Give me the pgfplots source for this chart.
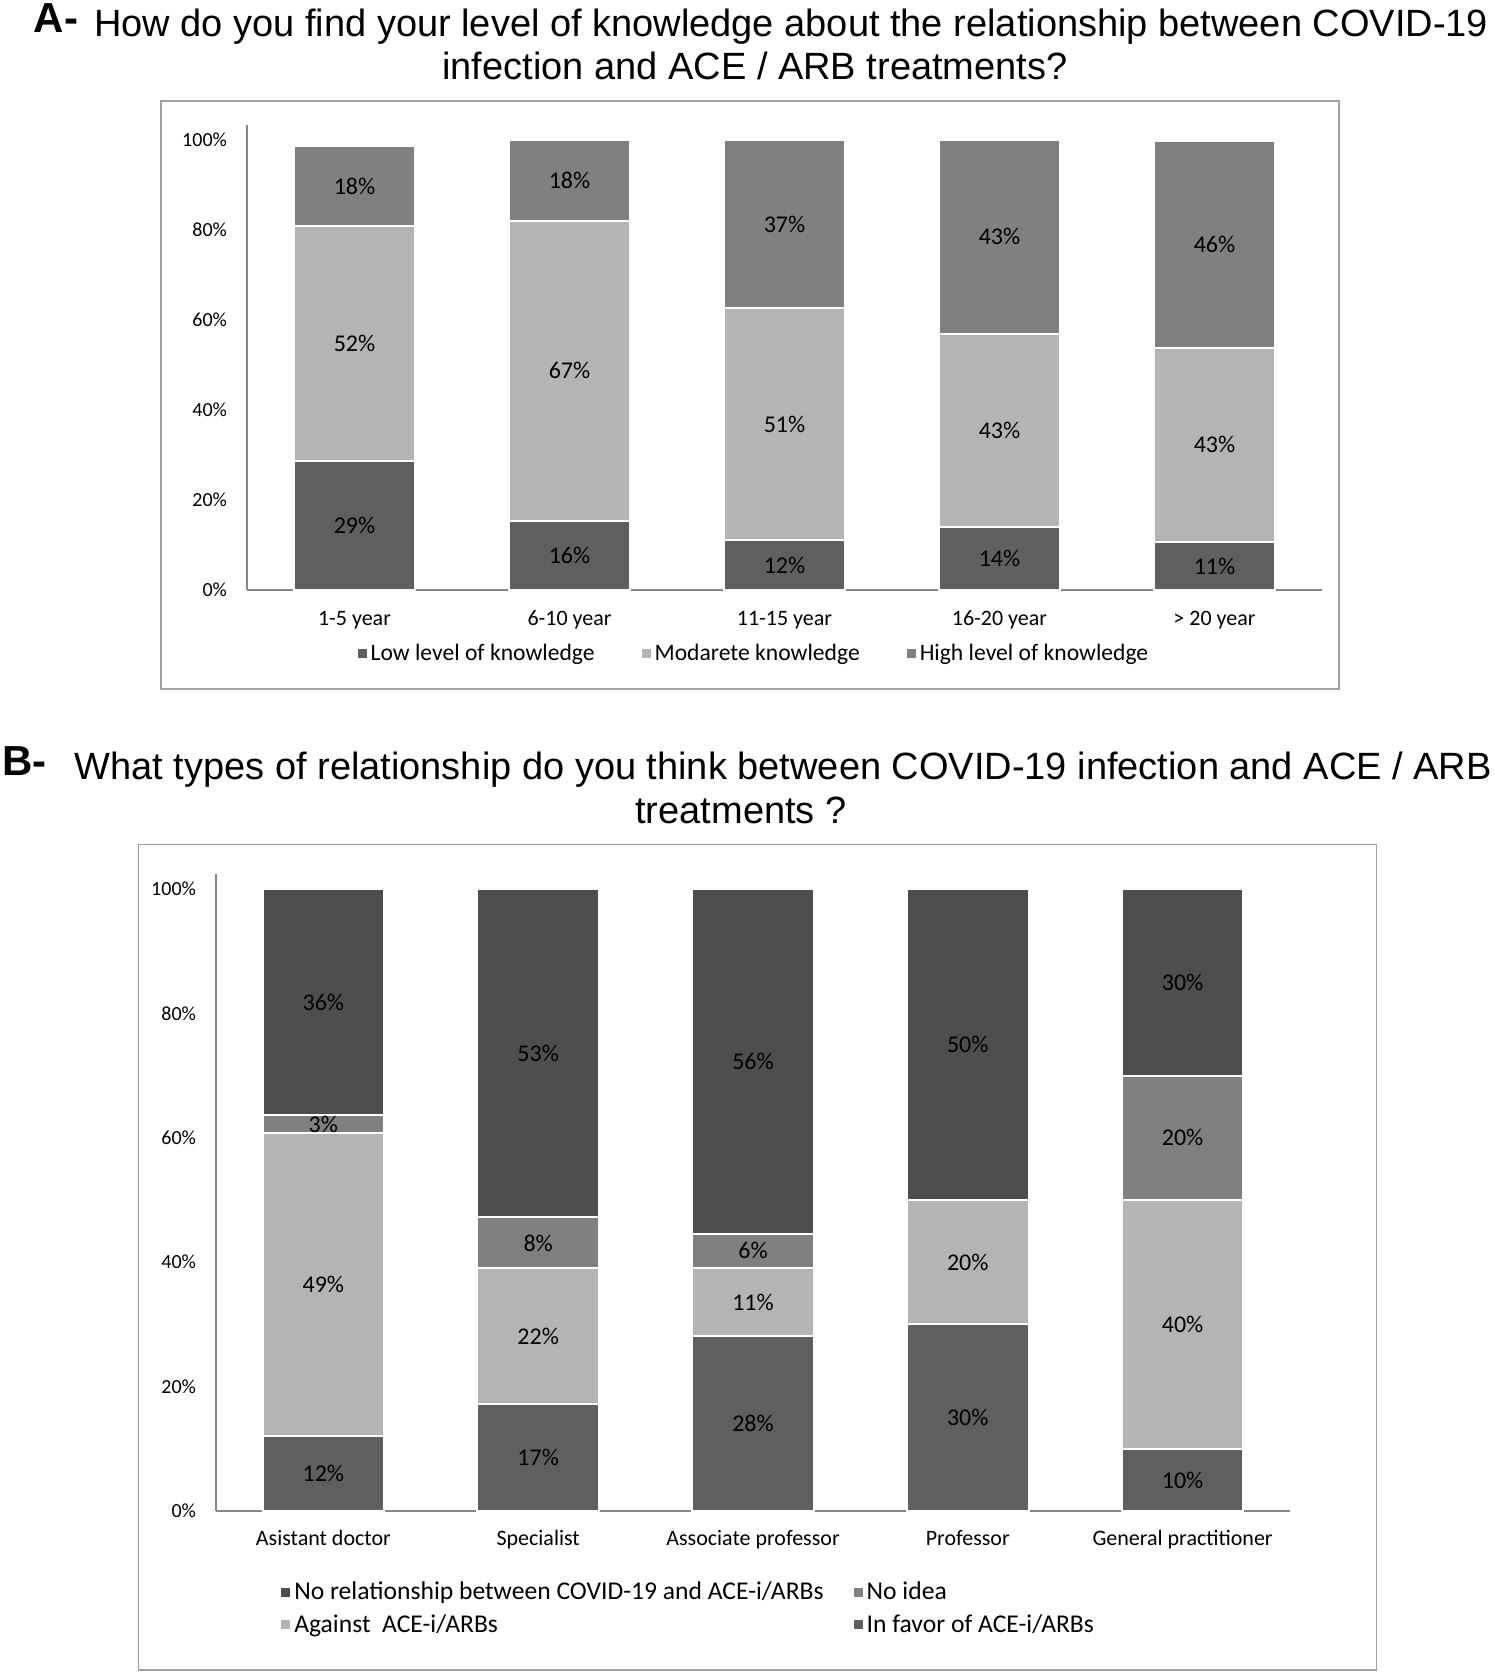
\documentclass[border=0pt]{standalone}
\usepackage{pgfplots}
\pgfplotsset{compat=1.18}
\usepackage{pgfplotstable}
\usepackage{fontspec}
\setmainfont{Carlito}
\newfontfamily\arial{Liberation Sans}

\definecolor{lowk}{HTML}{5F5F5F}
\definecolor{modk}{HTML}{B4B4B4}
\definecolor{highk}{HTML}{808080}
\definecolor{norel}{HTML}{4E4E4E}
\definecolor{axisgray}{HTML}{868686}
\definecolor{framegray}{HTML}{A0A0A0}

% A: knowledge by years of practice (segment heights)
\pgfplotstableread{
x low  lowlab mod  modlab high highlab
0 28.7 29\%   52.1 52\%   17.8 18\%
1 15.4 16\%   66.6 67\%   18.0 18\%
2 11.1 12\%   51.5 51\%   37.4 37\%
3 14.0 14\%   42.9 43\%   43.1 43\%
4 10.7 11\%   43.1 43\%   46.0 46\%
}\knowA

% B: opinion by position, stacked bottom to top
\pgfplotstableread{
x fav  favlab aga  agalab idea idealab norel norellab
0 12.0 12\%   48.7 49\%   2.9  3\%     36.4  36\%
1 17.2 17\%   21.8 22\%   8.2  8\%     52.8  53\%
2 28.1 28\%   11.0 11\%   5.5  6\%     55.4  56\%
3 30.0 30\%   20.0 20\%   0.0  {}      50.0  50\%
4 10.0 10\%   40.0 40\%   20.0 20\%    30.0  30\%
}\relB

\pgfplotsset{
  panel/.style={
    ybar stacked,
    scale only axis,
    anchor=south west,
    axis x line*=bottom, axis y line*=left,
    axis line style={axisgray, line width=0.75pt},
    major tick length=0pt,
    ymin=0, xmin=-0.5, xmax=4.5,
    ytick={0,20,...,100},
    yticklabels={0\%,20\%,40\%,60\%,80\%,100\%},
    xtick={0,...,4},
    yticklabel style={font=\fontsize{10}{12}\selectfont, xshift=-6.5pt},
    xticklabel style={font=\fontsize{11}{12}\selectfont, anchor=base},
    point meta=explicit symbolic,
    nodes near coords,
    every node near coord/.append style={anchor=center, inner sep=0pt,
      font=\fontsize{12}{14}\selectfont, text=black},
    every axis plot/.append style={draw=white, line width=1pt},
    legend cell align=left,
    legend image code/.code={\fill[#1, draw=none] (0pt,-2.25pt) rectangle (4.5pt,2.25pt);},
  },
}

\begin{document}
\begin{tikzpicture}
\path (0,0) rectangle (747.5pt,-836pt);

% titles
\tikzset{ttl/.style={anchor=base, inner sep=0pt, font=\arial\fontsize{19}{22}\selectfont}}
\node[ttl] at (380.5pt,-18.25pt)
  {\raisebox{2pt}{\fontsize{21}{22}\selectfont\textbf{A-}}\hspace{8pt}How do you find your level of knowledge about the relationship between COVID-19};
\node[ttl] at (377.5pt,-39.5pt)
  {infection and ACE / ARB treatments?};
\node[ttl] at (373.5pt,-389.5pt)
  {\raisebox{2pt}{\fontsize{21}{22}\selectfont\textbf{B-}}\hspace{14pt}What types of relationship do you think between COVID-19 infection and ACE / ARB};
\node[ttl] at (370.5pt,-411.5pt)
  {treatments ?};

% frames
\draw[framegray, line width=0.75pt] (80.5pt,-50.5pt) rectangle (669.5pt,-344.5pt);
\draw[framegray, line width=0.75pt] (69.3pt,-422.25pt) rectangle (688.3pt,-834.9pt);

\begin{axis}[panel,
  at={(123.5pt,-295pt)}, width=537.5pt, height=232.5pt,
  ymax=103.3, bar width=0.5655,
  xticklabels={1-5 year, 6-10 year, 11-15 year, 16-20 year, > 20 year},
  xticklabel style={yshift=-17.75pt},
  legend columns=3,
  legend style={draw=none, fill=none, at={(0.4725,-0.1376)}, anchor=center,
    font=\fontsize{11.8}{13}\selectfont,
    /tikz/every even column/.append style={column sep=21.5pt}},
]
\addplot[fill=lowk] table[x=x, y=low, meta=lowlab] {\knowA};
\addplot[fill=modk] table[x=x, y=mod, meta=modlab] {\knowA};
\addplot[fill=highk] table[x=x, y=high, meta=highlab] {\knowA};
\legend{Low level of knowledge, Modarete knowledge, High level of knowledge}
\end{axis}

\begin{axis}[panel,
  at={(108pt,-755.5pt)}, width=537pt, height=318.5pt,
  ymax=102.4, bar width=0.566,
  xticklabels={Asistant doctor, Specialist, Associate professor, Professor, General practitioner},
  xticklabel style={yshift=-17.3pt},
  legend columns=2, reverse legend,
  legend style={draw=none, fill=none, at={(0.441,-0.153)}, anchor=center,
    font=\fontsize{12.8}{14}\selectfont, row sep=2.9pt,
    nodes={inner ysep=1.5pt},
    /tikz/every even column/.append style={column sep=13pt}},
]
\addplot[fill=lowk] table[x=x, y=fav, meta=favlab] {\relB};
\addplot[fill=modk] table[x=x, y=aga, meta=agalab] {\relB};
\addplot[fill=highk] table[x=x, y=idea, meta=idealab] {\relB};
\addplot[fill=norel] table[x=x, y=norel, meta=norellab] {\relB};
\legend{In favor of ACE-i/ARBs, Against\ \ ACE-i/ARBs, No idea, No relationship between COVID-19 and ACE-i/ARBs}
\end{axis}
\end{tikzpicture}
\end{document}
